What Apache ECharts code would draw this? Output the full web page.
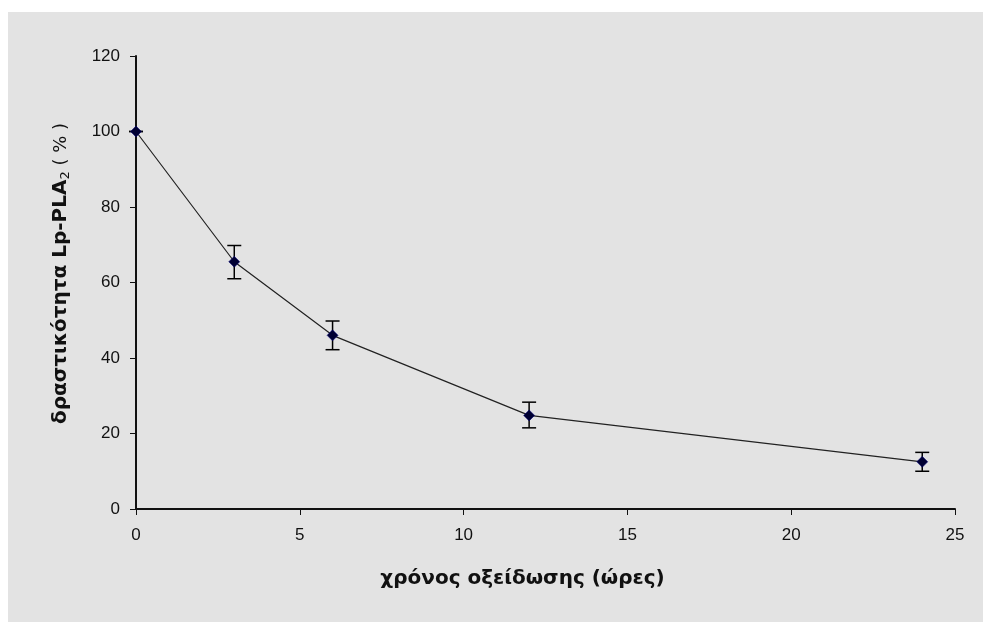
<!DOCTYPE html>
<html>
<head>
<meta charset="utf-8">
<script src="https://cdn.jsdelivr.net/npm/echarts@6/dist/echarts.min.js"></script>
<style>
  html, body { margin: 0; padding: 0; background: #fff; }
  #frame { position: absolute; left: 8px; top: 12px; right: 0; bottom: 0; background: #e3e3e3; }
  #chart { position: absolute; left: 0; top: 0; width: 983px; height: 622px; }
</style>
</head>
<body>
<div id="frame"></div>
<div id="chart"></div>
<script>
// χρόνος (ώρες) και δραστικότητα (%)
var hours = [0, 3, 6, 12, 24];
var activity = [100, 65.5, 46, 24.8, 12.5];
var errLow = [100, 61, 42.2, 21.5, 10];
var errHigh = [100, 69.8, 49.8, 28.3, 15];
var xTicks = [0, 5, 10, 15, 20, 25];
var yTicks = [0, 20, 40, 60, 80, 100, 120];

var chart = echarts.init(document.getElementById('chart'));

var lineData = hours.map(function (h, i) { return [h, activity[i]]; });
var errData = hours.map(function (h, i) { return [h, errLow[i], errHigh[i]]; });

var option = {
  backgroundColor: 'transparent',
  animation: false,
  grid: { left: 136, right: 28, top: 56, bottom: 113 },
  xAxis: {
    type: 'value',
    min: xTicks[0], max: xTicks[xTicks.length - 1], interval: 5,
    name: 'χρόνος οξείδωσης (ώρες)',
    nameLocation: 'middle',
    nameGap: 60,
    nameTextStyle: { fontFamily: 'DejaVu Sans', fontWeight: 'bold', fontSize: 20, color: '#111', padding: [0, 46, 0, 0] },
    axisLine: { lineStyle: { color: '#111', width: 2 } },
    axisTick: { length: 6, lineStyle: { color: '#111', width: 1 } },
    axisLabel: { margin: 18, fontFamily: 'Liberation Sans', fontSize: 17, color: '#111' },
    splitLine: { show: false }
  },
  yAxis: {
    type: 'value',
    min: yTicks[0], max: yTicks[yTicks.length - 1], interval: 20,
    name: '{a|δραστικότητα Lp-PLA}{s|2}{b| ( % )}',
    nameLocation: 'middle',
    nameRotate: 90,
    nameGap: 64,
    nameTextStyle: {
      padding: [0, 0, 0, 18],
      rich: {
        a: { fontFamily: 'DejaVu Sans', fontWeight: 'bold', fontSize: 20, color: '#111' },
        s: { fontFamily: 'DejaVu Sans', fontSize: 13, color: '#111', verticalAlign: 'bottom', padding: [9, 0, 0, 0] },
        b: { fontFamily: 'DejaVu Sans', fontSize: 18, color: '#111' }
      }
    },
    axisLine: { show: true, lineStyle: { color: '#111', width: 2 } },
    axisTick: { show: true, length: 6, lineStyle: { color: '#111', width: 1 } },
    axisLabel: { margin: 16, fontFamily: 'Liberation Sans', fontSize: 17, color: '#111' },
    splitLine: { show: false }
  },
  series: [
    {
      type: 'custom',
      data: errData,
      z: 3,
      renderItem: function (params, api) {
        var x = api.value(0);
        var lo = api.coord([x, api.value(1)]);
        var hi = api.coord([x, api.value(2)]);
        var w = 7;
        var st = { stroke: '#000', lineWidth: 1.5 };
        return {
          type: 'group',
          children: [
            { type: 'line', shape: { x1: hi[0], y1: hi[1], x2: lo[0], y2: lo[1] }, style: st },
            { type: 'line', shape: { x1: hi[0] - w, y1: hi[1], x2: hi[0] + w, y2: hi[1] }, style: st },
            { type: 'line', shape: { x1: lo[0] - w, y1: lo[1], x2: lo[0] + w, y2: lo[1] }, style: st }
          ]
        };
      }
    },
    {
      type: 'line',
      data: lineData,
      z: 4,
      symbol: 'diamond',
      symbolSize: 11,
      lineStyle: { color: '#222', width: 1.2 },
      itemStyle: { color: '#000033', borderColor: '#000080', borderWidth: 0.5 }
    }
  ]
};

chart.setOption(option);
</script>
</body>
</html>
